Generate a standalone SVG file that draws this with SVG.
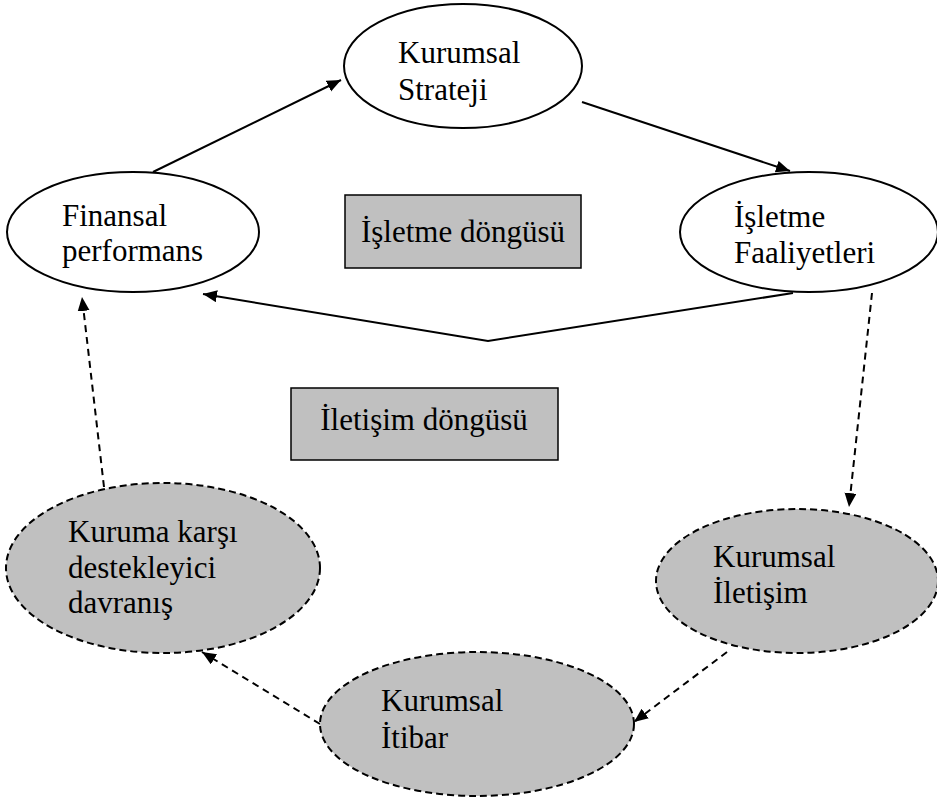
<svg xmlns="http://www.w3.org/2000/svg" width="937" height="801" viewBox="0 0 937 801">
<defs>
<style>
text{font-family:"Liberation Serif","Times New Roman",serif;font-size:31px;fill:#000}
.n{fill:#fff;stroke:#000;stroke-width:2}
.g{fill:#c0c0c0;stroke:#000;stroke-width:2;stroke-dasharray:7 4}
.b{fill:#c0c0c0;stroke:#000;stroke-width:1.5}
.c{fill:none;stroke:#000;stroke-width:2}
.d{fill:none;stroke:#000;stroke-width:2;stroke-dasharray:7 5}
</style>
<marker id="ah" markerUnits="userSpaceOnUse" markerWidth="16" markerHeight="14" refX="14" refY="6" orient="auto">
<path d="M0,0 L14,6 L0,12 Z" fill="#000"/>
</marker>
</defs>
<rect width="937" height="801" fill="#fff"/>
<g id="connectors">
<line class="c" x1="153" y1="172" x2="341" y2="80" marker-end="url(#ah)"/>
<line class="c" x1="582" y1="102" x2="790" y2="171" marker-end="url(#ah)"/>
<polyline class="c" points="793,293 488,341 203,294" marker-end="url(#ah)"/>
<line class="d" x1="872" y1="293" x2="849" y2="507" marker-end="url(#ah)"/>
<line class="d" x1="727" y1="652" x2="634" y2="722" marker-end="url(#ah)"/>
<line class="d" x1="320" y1="724" x2="202" y2="652" marker-end="url(#ah)"/>
<line class="d" x1="104" y1="487" x2="82" y2="297" marker-end="url(#ah)"/>
</g>
<g id="strateji">
<ellipse class="n" cx="463" cy="66" rx="119" ry="62"/>
<text x="398" y="63">Kurumsal</text>
<text x="398" y="100">Strateji</text>
</g>
<g id="finansal">
<ellipse class="n" cx="133" cy="232" rx="126" ry="60"/>
<text x="62" y="226">Finansal</text>
<text x="62" y="261">performans</text>
</g>
<g id="faaliyet">
<ellipse class="n" cx="809" cy="232" rx="129" ry="60"/>
<text x="734" y="227">İşletme</text>
<text x="734" y="263">Faaliyetleri</text>
</g>
<g id="isletme-dongusu">
<rect class="b" x="345" y="195" width="236" height="73"/>
<text x="463" y="242" text-anchor="middle">İşletme döngüsü</text>
</g>
<g id="iletisim-dongusu">
<rect class="b" x="291" y="388" width="267" height="72"/>
<text x="424" y="430" text-anchor="middle">İletişim döngüsü</text>
</g>
<g id="kurumsal-iletisim">
<ellipse class="g" cx="797" cy="581" rx="141" ry="72"/>
<text x="713" y="567">Kurumsal</text>
<text x="713" y="603">İletişim</text>
</g>
<g id="kurumsal-itibar">
<ellipse class="g" cx="477" cy="724" rx="157" ry="72"/>
<text x="381" y="711">Kurumsal</text>
<text x="381" y="748">İtibar</text>
</g>
<g id="destekleyici">
<ellipse class="g" cx="163" cy="568" rx="157" ry="85"/>
<text x="68" y="542">Kuruma karşı</text>
<text x="68" y="578">destekleyici</text>
<text x="68" y="613">davranış</text>
</g>
</svg>
